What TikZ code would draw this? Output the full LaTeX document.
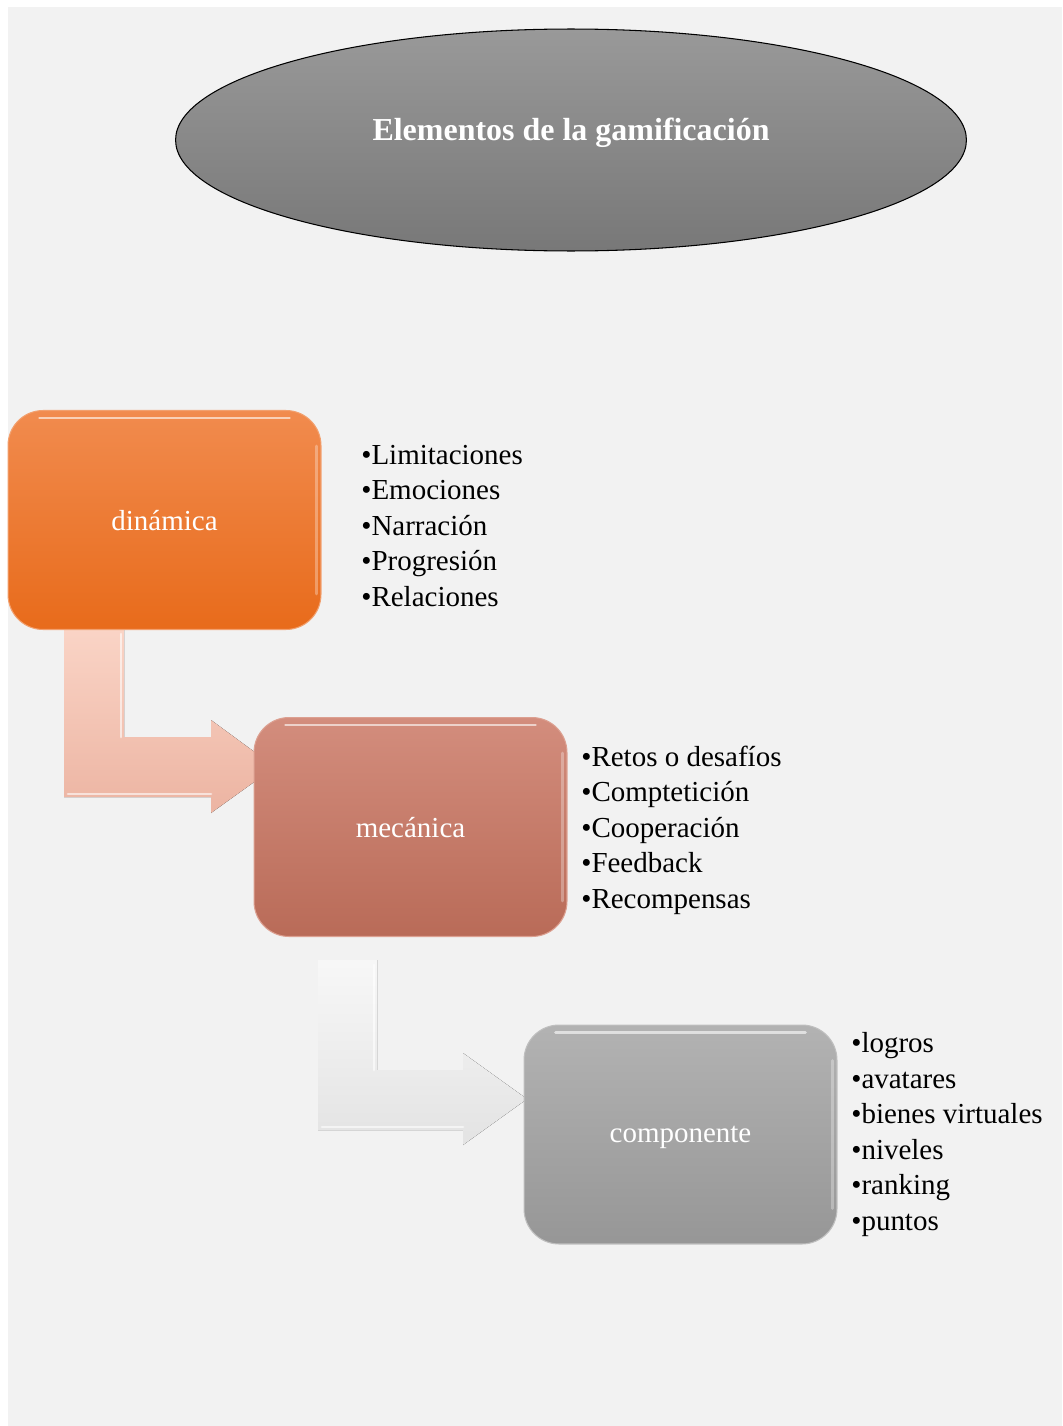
\documentclass[tikz,border=0pt]{standalone}
\usepackage{fontspec}
\setmainfont{Liberation Serif}
\usetikzlibrary{shapes.geometric, calc, positioning}

\definecolor{fondo}{HTML}{F2F2F2}
\tikzset{
    etapa/.style={rounded corners=0.7cm, minimum width=6.26cm, minimum height=4.38cm,
        text=white, text depth=0pt, font=\fontsize{16.5}{20}\selectfont, line width=0.6pt},
    lista/.style={anchor=west, align=left, inner sep=0pt, font=\fontsize{16.5}{20.2}\selectfont},
    brillo/.style={white, opacity=0.6, line width=1.6pt, line cap=round},
}

\begin{document}
\begin{tikzpicture}[x=0.02cm, y=-0.02cm]
    \useasboundingbox (0,0) rectangle (1062,1426);
    \fill[white] (0,0) rectangle (1062,1426);
    \fill[fondo] (8,7) rectangle (1062,1426);

    \node[ellipse, draw=black, line width=0.6pt, top color=black!40, bottom color=black!53,
        minimum width=15.82cm, minimum height=4.44cm] (elem) at (571,140) {};
    \node[text=white, font=\fontsize{18.2}{22}\selectfont\bfseries] (titulo) at (571,133) {Elementos de la gamificación};

    \fill[top color={rgb,255:red,250;green,212;blue,198}, bottom color={rgb,255:red,236;green,180;blue,162}]
        (64,629) -- (124,629) -- (124,737) -- (211,737) -- (211,720) -- (275,767)
        -- (211,813) -- (211,797) -- (64,797) -- cycle;
    \draw[brillo] (121,634) -- (121,737);
    \draw[brillo] (68,794) -- (211,794);
    \fill[top color=black!3, bottom color=black!11]
        (318,960) -- (377,960) -- (377,1070) -- (463,1070) -- (463,1053) -- (527,1099)
        -- (463,1145) -- (463,1130) -- (318,1130) -- cycle;
    \draw[brillo] (374,965) -- (374,1070);
    \draw[brillo] (322,1127) -- (463,1127);

    \node[etapa, draw={rgb,255:red,242;green,160;blue,110}, top color={rgb,255:red,241;green,139;blue,78},
        bottom color={rgb,255:red,232;green,107;blue,27}] (din) at (164.5,520) {dinámica};
    \node[etapa, draw={rgb,255:red,220;green,160;blue,145}, top color={rgb,255:red,211;green,141;blue,125},
        bottom color={rgb,255:red,185;green,107;blue,88}] (mec) at (410.5,827) {mecánica};
    \node[etapa, draw=black!25, top color=black!30, bottom color=black!41] (comp) at (680.5,1134.5) {componente};
    \foreach \n in {din, mec, comp}{
        \draw[brillo] ($(\n.north west)+(32,8)$) -- ($(\n.north east)+(-32,8)$);
        \draw[brillo, opacity=0.3] ($(\n.north east)+(-5,36)$) -- ($(\n.south east)+(-5,-36)$);
    }

    \node[lista] (ldin) at (361,526) {•Limitaciones\\•Emociones\\•Narración\\•Progresión\\•Relaciones};
    \node[lista] (lmec) at (581,830) {•Retos o desafíos\\•Comptetición\\•Cooperación\\•Feedback\\•Recompensas};
    \node[lista] (lcomp) at (851,1134.5) {•logros\\•avatares\\•bienes virtuales\\•niveles\\•ranking\\•puntos};
\end{tikzpicture}
\end{document}
